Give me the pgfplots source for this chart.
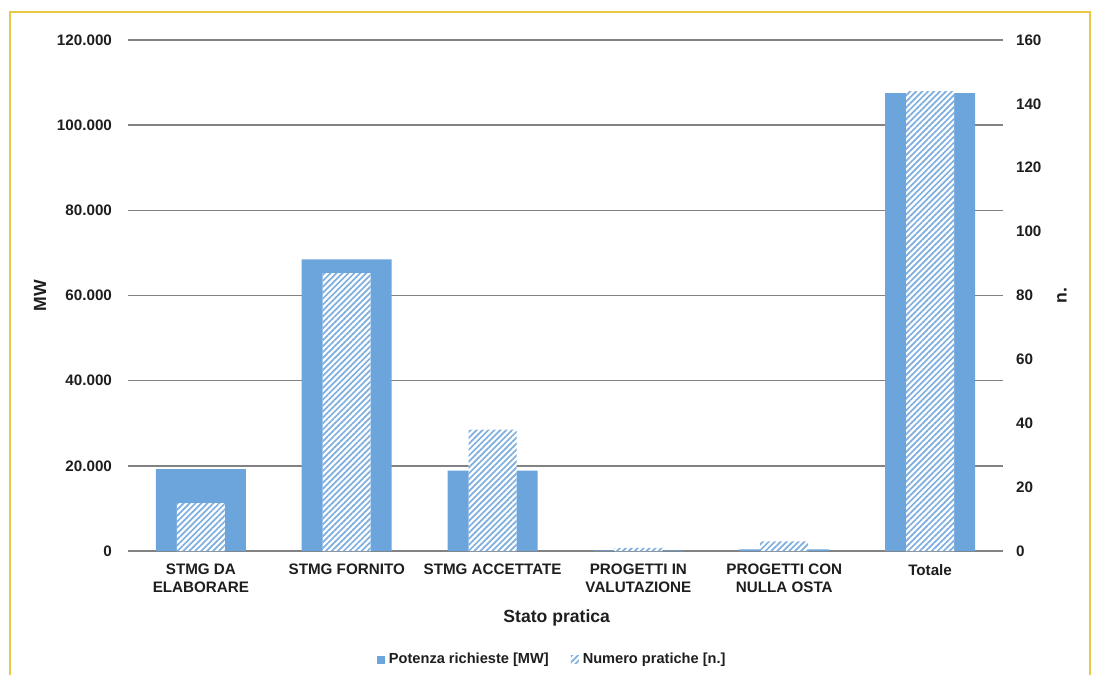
\documentclass[border=0pt]{standalone}
\usepackage{pgfplots}
\pgfplotsset{compat=1.18}
\usepackage{fontspec}
\setmainfont{Liberation Sans}
\usetikzlibrary{patterns.meta}

\definecolor{barblue}{RGB}{108,164,220}
\definecolor{hatchblue}{RGB}{125,174,224}
\definecolor{gridgray}{RGB}{130,130,130}
\definecolor{framegold}{RGB}{232,200,70}
\definecolor{txt}{RGB}{30,30,30}

\pgfplotsset{
  base/.style={
    scale only axis,
    width=437.5pt, height=255.5pt,
    at={(0,0)}, anchor=south west,
    xmin=-0.5, xmax=5.5,
    ymin=0,
    axis line style={draw=none},
    major tick length=0pt,
    ybar, bar shift=0pt,
    tick label style={font=\fontsize{7.6}{9}\selectfont\bfseries, text=txt},
    label style={font=\fontsize{8.8}{10}\selectfont\bfseries, text=txt},
    /pgf/number format/assume math mode=true,
    scaled y ticks=false,
  },
}

\begin{document}
\begin{tikzpicture}
\path[use as bounding box] (-64pt,-62pt) rectangle (482.5pt,275.5pt);
\draw[framegold, line width=1pt] (-59pt,-80pt) rectangle (481pt,269.5pt);

% Potenza richieste [MW] (left axis)
\begin{axis}[base,
  ymax=120000,
  ytick={0,20000,...,120000},
  /pgf/number format/fixed,
  /pgf/number format/1000 sep={.},
  ymajorgrids, grid style={gridgray, line width=0.75pt},
  xtick={0,...,5},
  xticklabels={{STMG DA\\ELABORARE},{STMG FORNITO},{STMG ACCETTATE},{PROGETTI IN\\VALUTAZIONE},{PROGETTI CON\\NULLA OSTA},{Totale}},
  xticklabel style={align=center, yshift=-3pt},
  yticklabel style={xshift=-4.5pt},
  ylabel={MW}, ylabel style={at={(-44pt,0.5)}, anchor=center},
  xlabel={Stato pratica}, xlabel style={at={(0.49,-0.131)}, anchor=center},
  bar width=45pt,
]
\addplot[fill=barblue, draw=none] coordinates {
  (0,19200) (1,68500) (2,18850) (3,150) (4,400) (5,107500)
};
\end{axis}

% Numero pratiche [n.] (right axis)
\begin{axis}[base,
  ymax=160,
  ytick={0,20,...,160},
  axis y line*=right,
  axis x line=none,
  yticklabel style={xshift=3pt},
  ylabel={n.}, ylabel style={at={(467pt,0.5)}, anchor=center},
  bar width=24pt,
  legend style={at={(0.486,-0.213)}, anchor=center, draw=none, fill=none,
    legend columns=2, font=\fontsize{7.3}{9}\selectfont\bfseries, text=txt,
    /tikz/every even column/.append style={column sep=9pt}},
  legend image code/.code={\path[#1, draw=none] (0pt,-2pt) rectangle (4pt,2pt);},
]
\addlegendimage{fill=barblue}
\addlegendentry{Potenza richieste [MW]}
\addplot[fill=white, draw=none,
  postaction={pattern={Lines[angle=45, distance=2.1pt, line width=0.85pt]}, pattern color=hatchblue}]
  coordinates {
  (0,15) (1,87) (2,38) (3,1) (4,3) (5,144)
};
\addlegendentry{Numero pratiche [n.]}
\end{axis}
\end{tikzpicture}
\end{document}
